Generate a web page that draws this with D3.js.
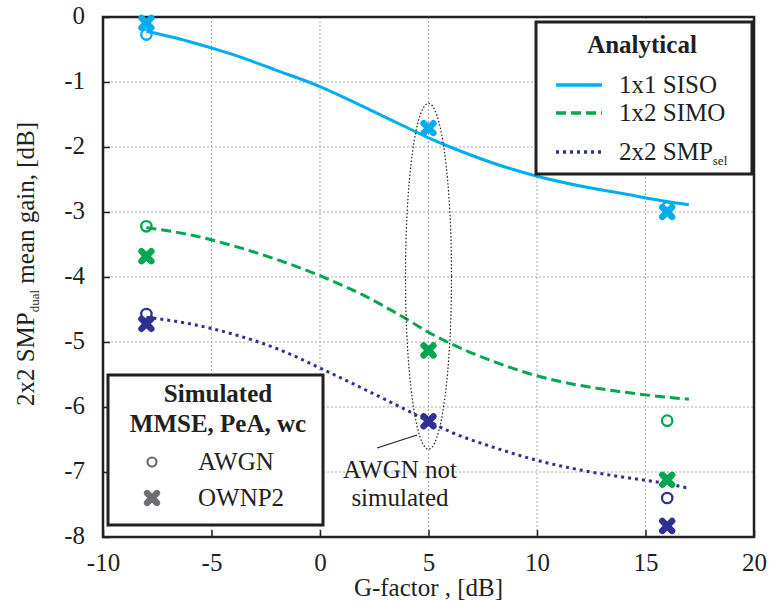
<!DOCTYPE html>
<html>
<head>
<meta charset="utf-8">
<script src="https://cdn.jsdelivr.net/npm/d3@7"></script>
<style>
  html, body { margin: 0; padding: 0; background: #fff; }
  svg text { font-family: "Liberation Serif", "Times New Roman", serif; fill: #231f20; }
</style>
</head>
<body>
<svg id="chart" width="778" height="611"></svg>
<script>
// ---- data ----
const curveX = [-8, -6, -4, -2, 0, 2, 4, 5, 6, 8, 10, 12, 14, 16, 17];
const sisoCurve = [-0.22, -0.38, -0.58, -0.82, -1.07, -1.38, -1.70, -1.86, -2.00, -2.25, -2.45, -2.60, -2.72, -2.84, -2.89];
const simoCurve = [-3.24, -3.35, -3.52, -3.73, -3.98, -4.28, -4.65, -4.85, -5.02, -5.30, -5.52, -5.67, -5.77, -5.85, -5.88];
const smpCurve  = [-4.62, -4.72, -4.88, -5.10, -5.40, -5.72, -6.05, -6.22, -6.38, -6.62, -6.82, -6.97, -7.08, -7.18, -7.25];

const simX = [-8, 5, 16];
const sisoAWGN  = [-0.27, null, -2.93];
const simoAWGN  = [-3.22, null, -6.21];
const smpAWGN   = [-4.57, null, -7.40];
const sisoOWNP2 = [-0.09, -1.71, -3.00];
const simoOWNP2 = [-3.68, -5.13, -7.12];
const smpOWNP2  = [-4.72, -6.22, -7.83];

const xTicks = [-10, -5, 0, 5, 10, 15, 20];
const yTicks = [0, -1, -2, -3, -4, -5, -6, -7, -8];

const seriesNames = ["1x1 SISO", "1x2 SIMO", "2x2 SMP"];
const colors = ["#00aeef", "#00a650", "#2e3192"];

// ---- layout ----
const svg = d3.select("#chart");
const L = 103, R = 754, T = 17, B = 537;
const x = d3.scaleLinear().domain([-10, 20]).range([L, R]);
const y = d3.scaleLinear().domain([-8, 0]).range([B, T]);
const fmt = d => String(d);

// grid
const grid = svg.append("g");
grid.selectAll("line.v").data(xTicks.slice(1, -1)).join("line")
  .attr("x1", d => x(d)).attr("x2", d => x(d)).attr("y1", T).attr("y2", B)
  .attr("stroke", "#aaa").attr("stroke-width", 1).attr("stroke-dasharray", "2,2");
grid.selectAll("line.h").data(yTicks.slice(1, -1)).join("line")
  .attr("y1", d => y(d)).attr("y2", d => y(d)).attr("x1", L).attr("x2", R)
  .attr("stroke", "#aaa").attr("stroke-width", 1).attr("stroke-dasharray", "2,2");

// axes (inward ticks)
const xAxis = svg.append("g").attr("transform", `translate(0,${B})`)
  .call(d3.axisBottom(x).tickValues(xTicks).tickSize(-7).tickPadding(0).tickFormat(fmt));
xAxis.select(".domain").remove();
xAxis.selectAll(".tick line").attr("stroke", "#231f20").attr("stroke-width", 1.5);
xAxis.selectAll(".tick text").attr("font-size", 25).attr("y", 34).attr("dy", 0);

const yAxis = svg.append("g").attr("transform", `translate(${L},0)`)
  .call(d3.axisLeft(y).tickValues(yTicks).tickSize(-7).tickPadding(0).tickFormat(fmt));
yAxis.select(".domain").remove();
yAxis.selectAll(".tick line").attr("stroke", "#231f20").attr("stroke-width", 1.5);
yAxis.selectAll(".tick text").attr("font-size", 25).attr("x", -18).attr("dy", "0.25em");

// frame
svg.append("rect").attr("x", L).attr("y", T).attr("width", R - L).attr("height", B - T)
  .attr("fill", "none").attr("stroke", "#231f20").attr("stroke-width", 2.5);

// curves
const line = d3.line().x(d => x(d[0])).y(d => y(d[1])).curve(d3.curveMonotoneX);
const curves = [sisoCurve, simoCurve, smpCurve];
const dashes = [null, "10,5", "3,4"];
curves.forEach((c, i) => {
  svg.append("path").datum(curveX.map((v, j) => [v, c[j]]))
    .attr("d", line).attr("fill", "none").attr("stroke", colors[i])
    .attr("stroke-width", 3).attr("stroke-dasharray", dashes[i]);
});

// annotation ellipse
svg.append("ellipse").attr("cx", x(5)).attr("cy", (y(-1.33) + y(-6.65)) / 2)
  .attr("rx", 23).attr("ry", (y(-6.65) - y(-1.33)) / 2)
  .attr("fill", "none").attr("stroke", "#231f20").attr("stroke-width", 1.2).attr("stroke-dasharray", "1.5,2");

// markers
const xSym = d3.symbol().type(d3.symbolX).size(64);
const awgn = [sisoAWGN, simoAWGN, smpAWGN];
const ownp = [sisoOWNP2, simoOWNP2, smpOWNP2];
awgn.forEach((arr, i) => {
  svg.append("g").selectAll("circle").data(simX.map((v, j) => [v, arr[j]]).filter(d => d[1] != null))
    .join("circle").attr("cx", d => x(d[0])).attr("cy", d => y(d[1])).attr("r", 5.2)
    .attr("fill", "none").attr("stroke", colors[i]).attr("stroke-width", 2.3);
});
ownp.forEach((arr, i) => {
  svg.append("g").selectAll("path").data(simX.map((v, j) => [v, arr[j]]).filter(d => d[1] != null))
    .join("path").attr("d", xSym).attr("transform", d => `translate(${x(d[0])},${y(d[1])})`)
    .attr("fill", "none").attr("stroke", colors[i]).attr("stroke-width", 6.5).attr("stroke-linecap", "round");
});

// annotation pointer + text
svg.append("line").attr("x1", 377).attr("y1", 448).attr("x2", 417).attr("y2", 435)
  .attr("stroke", "#231f20").attr("stroke-width", 1.3);
svg.append("text").attr("x", 400).attr("y", 478).attr("text-anchor", "middle").attr("font-size", 25).text("AWGN not");
svg.append("text").attr("x", 400).attr("y", 506).attr("text-anchor", "middle").attr("font-size", 25).text("simulated");

// axis titles
svg.append("text").attr("x", x(5)).attr("y", 596).attr("text-anchor", "middle").attr("font-size", 25).text("G-factor , [dB]");
const yl = svg.append("text").attr("transform", "translate(34,264) rotate(-90)")
  .attr("text-anchor", "middle").attr("font-size", 25);
yl.append("tspan").text("2x2 SMP");
yl.append("tspan").attr("font-size", 13).attr("dy", 5).text("dual");
yl.append("tspan").attr("dy", -5).text(" mean gain, [dB]");

// Legend 1: Analytical
const lg1 = svg.append("g");
lg1.append("rect").attr("x", 536).attr("y", 22).attr("width", 216).attr("height", 152)
  .attr("fill", "#fff").attr("stroke", "#231f20").attr("stroke-width", 3);
lg1.append("text").attr("x", 642).attr("y", 53).attr("text-anchor", "middle")
  .attr("font-size", 25).attr("font-weight", "bold").text("Analytical");
const lgY = [85, 113, 152];
seriesNames.forEach((n, i) => {
  lg1.append("line").attr("x1", 556).attr("x2", 602).attr("y1", lgY[i]).attr("y2", lgY[i])
    .attr("stroke", colors[i]).attr("stroke-width", 3.5).attr("stroke-dasharray", dashes[i]);
  const t = lg1.append("text").attr("x", 619).attr("y", lgY[i] + 8).attr("font-size", 25);
  t.append("tspan").text(n);
  if (i === 2) t.append("tspan").attr("font-size", 13).attr("dy", 5).text("sel");
});

// Legend 2: Simulated
const lg2 = svg.append("g");
lg2.append("rect").attr("x", 108).attr("y", 375).attr("width", 215).attr("height", 150)
  .attr("fill", "#fff").attr("stroke", "#231f20").attr("stroke-width", 3);
lg2.append("text").attr("x", 218).attr("y", 402).attr("text-anchor", "middle")
  .attr("font-size", 25).attr("font-weight", "bold").text("Simulated");
lg2.append("text").attr("x", 218).attr("y", 432).attr("text-anchor", "middle")
  .attr("font-size", 25).attr("font-weight", "bold").text("MMSE, PeA, wc");
lg2.append("circle").attr("cx", 152).attr("cy", 462).attr("r", 4.5)
  .attr("fill", "none").attr("stroke", "#6d6e71").attr("stroke-width", 2.2);
lg2.append("text").attr("x", 198).attr("y", 470).attr("font-size", 25).text("AWGN");
lg2.append("path").attr("d", xSym).attr("transform", "translate(152,498)")
  .attr("fill", "none").attr("stroke", "#6d6e71").attr("stroke-width", 6.5).attr("stroke-linecap", "round");
lg2.append("text").attr("x", 198).attr("y", 506).attr("font-size", 25).text("OWNP2");
</script>
</body>
</html>
